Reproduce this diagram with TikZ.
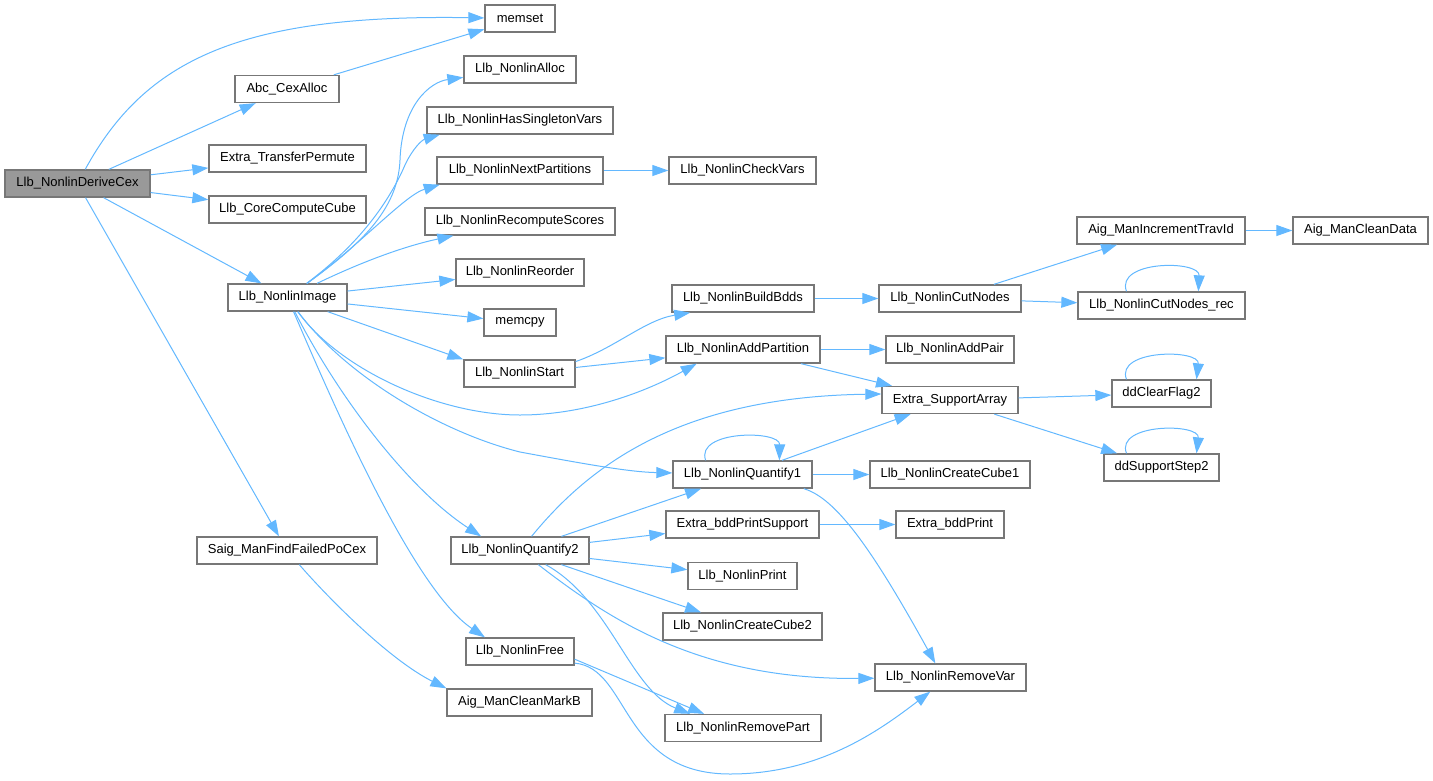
\documentclass[tikz,border=0pt]{standalone}
\usepackage{fontspec}
\setmainfont{Liberation Sans}
\usetikzlibrary{arrows.meta}
\definecolor{edgeblue}{HTML}{63B8FF}
\definecolor{boxline}{HTML}{777777}
\definecolor{rootfill}{HTML}{999999}
\tikzset{
 fn/.style={draw=boxline, line width=1.3pt, fill=white, rectangle, minimum height=27pt, inner sep=0pt, font=\fontsize{13}{15}\selectfont, text=black},
 rootfn/.style={fn, fill=rootfill},
 e/.style={draw=edgeblue, line width=1pt, -{Triangle[length=16pt,width=11pt]}},
}
\begin{document}
\begin{tikzpicture}[x=1pt,y=-1pt]
\useasboundingbox (0,0) rectangle (1433,780);
% nodes
\node[rootfn, minimum width=145pt] (derive) at (77.5,183.5) {Llb\_NonlinDeriveCex};
\node[fn, minimum width=70pt] (memset) at (520,18.5) {memset};
\node[fn, minimum width=104pt] (cexalloc) at (287,89) {Abc\_CexAlloc};
\node[fn, minimum width=157pt] (transfer) at (287.5,158.5) {Extra\_TransferPermute};
\node[fn, minimum width=157pt] (corecube) at (287.5,209.5) {Llb\_CoreComputeCube};
\node[fn, minimum width=119pt] (image) at (287.5,297.5) {Llb\_NonlinImage};
\node[fn, minimum width=180pt] (saig) at (287,550.5) {Saig\_ManFindFailedPoCex};
\node[fn, minimum width=112pt] (alloc) at (520,69.5) {Llb\_NonlinAlloc};
\node[fn, minimum width=186pt] (singleton) at (520,120.5) {Llb\_NonlinHasSingletonVars};
\node[fn, minimum width=166pt] (nextpart) at (520,170.5) {Llb\_NonlinNextPartitions};
\node[fn, minimum width=190pt] (recompute) at (520,221.5) {Llb\_NonlinRecomputeScores};
\node[fn, minimum width=128pt] (reorder) at (520,272.5) {Llb\_NonlinReorder};
\node[fn, minimum width=72pt] (memcpy) at (520,322.5) {memcpy};
\node[fn, minimum width=111pt] (start) at (519.5,373.5) {Llb\_NonlinStart};
\node[fn, minimum width=138pt] (quant2) at (520,550.5) {Llb\_NonlinQuantify2};
\node[fn, minimum width=108pt] (free) at (520,651.5) {Llb\_NonlinFree};
\node[fn, minimum width=145pt] (cleanmarkb) at (519.5,702.5) {Aig\_ManCleanMarkB};
\node[fn, minimum width=147pt] (checkvars) at (742.5,170.5) {Llb\_NonlinCheckVars};
\node[fn, minimum width=142pt] (buildbdds) at (743,298.5) {Llb\_NonlinBuildBdds};
\node[fn, minimum width=154pt] (addpart) at (743,349.5) {Llb\_NonlinAddPartition};
\node[fn, minimum width=139pt] (quant1) at (742.5,474.5) {Llb\_NonlinQuantify1};
\node[fn, minimum width=153pt] (printsupport) at (742.5,524.5) {Extra\_bddPrintSupport};
\node[fn, minimum width=109pt] (print) at (742.5,576) {Llb\_NonlinPrint};
\node[fn, minimum width=159pt] (cube2) at (742.5,626.5) {Llb\_NonlinCreateCube2};
\node[fn, minimum width=156pt] (removepart) at (743,728) {Llb\_NonlinRemovePart};
\node[fn, minimum width=142pt] (cutnodes) at (950,298.5) {Llb\_NonlinCutNodes};
\node[fn, minimum width=128pt] (addpair) at (950,349.5) {Llb\_NonlinAddPair};
\node[fn, minimum width=136pt] (supportarray) at (950,400) {Extra\_SupportArray};
\node[fn, minimum width=160pt] (cube1) at (950,474.5) {Llb\_NonlinCreateCube1};
\node[fn, minimum width=108pt] (bddprint) at (950,524.5) {Extra\_bddPrint};
\node[fn, minimum width=151pt] (removevar) at (950.5,677.5) {Llb\_NonlinRemoveVar};
\node[fn, minimum width=168pt] (inctrav) at (1161,230.5) {Aig\_ManIncrementTravId};
\node[fn, minimum width=135pt] (cleandata) at (1360.5,230.5) {Aig\_ManCleanData};
\node[fn, minimum width=167pt] (cutrec) at (1161.5,305.5) {Llb\_NonlinCutNodes\_rec};
\node[fn, minimum width=99pt] (clearflag) at (1161.5,393.5) {ddClearFlag2};
\node[fn, minimum width=115pt] (supportstep) at (1161.5,467.5) {ddSupportStep2};
% edges
\draw[e] (derive) .. controls (145,60) and (240,14) .. (memset);
\draw[e] (derive) -- (cexalloc);
\draw[e] (derive) -- (transfer);
\draw[e] (derive) -- (corecube);
\draw[e] (derive) -- (image);
\draw[e] (derive) -- (saig);
\draw[e] (cexalloc) -- (memset);
\draw[e] (image) .. controls (360,245) and (398,210) .. (400,160) .. controls (402,105) and (430,82) .. (alloc);
\draw[e] (image) .. controls (365,240) and (392,195) .. (405,165) .. controls (413,148) and (422,140) .. (singleton.190);
\draw[e] (image) .. controls (360,245) and (405,195) .. (nextpart.190);
\draw[e] (image) .. controls (370,258) and (410,245) .. (recompute.192);
\draw[e] (image) -- (reorder);
\draw[e] (image) -- (memcpy);
\draw[e] (image) -- (start.166);
\draw[e] (image) .. controls (340,370) and (440,415) .. (520,415) .. controls (580,415) and (640,395) .. (addpart.197);
\draw[e] (image) .. controls (345,375) and (440,432) .. (520,452) .. controls (590,465) and (630,472) .. (quant1);
\draw[e] (image) .. controls (340,400) and (410,490) .. (quant2.160);
\draw[e] (image) .. controls (340,420) and (415,590) .. (free.158);
\draw[e] (nextpart) -- (checkvars);
\draw[e] (start.12) .. controls (615,348) and (645,320) .. (buildbdds.195);
\draw[e] (start) -- (addpart);
\draw[e] (buildbdds) -- (cutnodes);
\draw[e] (cutnodes) -- (inctrav);
\draw[e] (cutnodes) -- (cutrec);
\draw[e] (inctrav) -- (cleandata);
\draw[e] (cutrec.158) .. controls (1115,260) and (1200,260) .. (cutrec.21);
\draw[e] (addpart) -- (addpair);
\draw[e] (addpart) -- (supportarray);
\draw[e] (supportarray) -- (clearflag);
\draw[e] (supportarray) -- (supportstep);
\draw[e] (clearflag.158) .. controls (1115,349) and (1200,349) .. (clearflag.22);
\draw[e] (supportstep.158) .. controls (1115,423) and (1200,423) .. (supportstep.22);
\draw[e] (quant1.159) .. controls (695,430) and (780,430) .. (quant1.21);
\draw[e] (quant1) -- (supportarray);
\draw[e] (quant1) -- (cube1);
\draw[e] (quant1.-13) .. controls (835,498) and (870,545) .. (removevar.137);
\draw[e] (quant2) .. controls (590,465) and (680,397) .. (supportarray.175);
\draw[e] (quant2) -- (quant1);
\draw[e] (quant2) -- (printsupport);
\draw[e] (quant2) -- (print);
\draw[e] (quant2) -- (cube2);
\draw[e] (quant2) .. controls (610,620) and (700,680) .. (removevar);
\draw[e] (quant2) .. controls (610,600) and (630,690) .. (removepart.165);
\draw[e] (printsupport) -- (bddprint);
\draw[e] (free.-8) -- (removepart.160);
\draw[e] (free.-12) .. controls (630,668) and (620,774) .. (730,774) .. controls (820,774) and (880,730) .. (removevar.215);
\draw[e] (saig) .. controls (330,600) and (390,660) .. (cleanmarkb.north west);
\end{tikzpicture}
\end{document}
